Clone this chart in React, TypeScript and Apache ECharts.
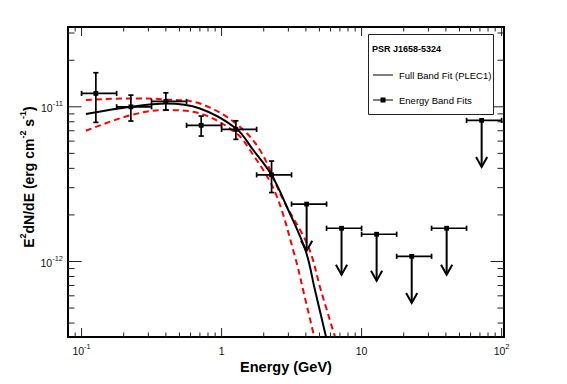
import React, { useEffect, useRef } from 'react';
import * as echarts from 'echarts';

const FONT = '"Liberation Sans", Arial, Helvetica, sans-serif';

// Axis ranges (log axes)
const X_MIN = 0.08;
const X_MAX = 104;
const Y_MIN = 3.25e-13;
const Y_MAX = 3.28e-11;

// Energy band fits (detections)
const bandE = [0.1265, 0.225, 0.4, 0.715, 1.265, 2.275];
const bandELow = [0.1, 0.178, 0.316, 0.562, 1.0, 1.78];
const bandEHigh = [0.178, 0.316, 0.562, 1.0, 1.78, 3.16];
const bandFlux = [1.22e-11, 1.0e-11, 1.083e-11, 7.59e-12, 7.15e-12, 3.63e-12];
const bandFluxLow = [7.93e-12, 8.09e-12, 9.52e-12, 6.47e-12, 6.16e-12, 2.79e-12];
const bandFluxHigh = [1.66e-11, 1.19e-11, 1.231e-11, 8.71e-12, 8.12e-12, 4.46e-12];

// Energy band upper limits
const ulE = [4.05, 7.19, 12.8, 22.8, 40.5, 72.0];
const ulELow = [3.16, 5.62, 10.0, 17.8, 31.6, 56.2];
const ulEHigh = [5.62, 10.0, 17.8, 31.6, 56.2, 100];
const ulFlux = [2.35e-12, 1.64e-12, 1.5e-12, 1.08e-12, 1.64e-12, 8.17e-12];
const UL_ARROW_FACTOR = 0.5;

// Full band fit (PLEC1)
const fitE = [0.1074, 0.225, 0.4, 0.7, 1.265, 1.68, 2.275, 2.99, 4.0, 4.64, 5.56];
const fitFlux = [8.97e-12, 1.0e-11, 1.05e-11, 9.76e-12, 7.26e-12, 5.26e-12, 3.62e-12, 2.16e-12, 1.16e-12, 6.56e-13, 3.28e-13];

// Upper / lower 1-sigma band of the fit
const fitUpE = [0.1074, 0.225, 0.4, 0.7, 1.265, 1.877, 2.755, 4.16, 5.11, 6.44];
const fitUpFlux = [1.105e-11, 1.133e-11, 1.116e-11, 1.05e-11, 7.81e-12, 5.26e-12, 2.5e-12, 1.25e-12, 6.56e-13, 3.28e-13];
const fitLoE = [0.1074, 0.225, 0.4, 0.7, 1.265, 1.593, 2.4, 3.34, 3.92, 4.58];
const fitLoFlux = [7.0e-12, 8.84e-12, 9.52e-12, 9.07e-12, 6.79e-12, 5.26e-12, 2.83e-12, 1.08e-12, 5.94e-13, 3.28e-13];

// Tick label texts
const xTitle = 'Energy (GeV)';
const legendTitle = 'PSR J1658-5324';
const legendFit = 'Full Band Fit (PLEC1)';
const legendBands = 'Energy Band Fits';

function logTicks(min: number, max: number) {
  const out: number[][] = [];
  const d0 = Math.floor(Math.log10(min));
  const d1 = Math.ceil(Math.log10(max));
  for (let d = d0; d <= d1; d++) {
    for (let m = 1; m <= 9; m++) {
      const v = m * Math.pow(10, d);
      if (v > min * 1.001 && v < max * 0.999) out.push([v, m === 1 ? 1 : 0]);
    }
  }
  return out;
}

const labelFmt = (v: number) => {
  const l = Math.log10(v);
  const r = Math.round(l);
  if (Math.abs(l - r) > 1e-6) return '';
  if (r === 0) return '{b|1}';
  if (r === 1) return '{b|10}';
  return `{b|10}{s|${r}}`;
};

const labelRich = {
  b: { fontSize: 10.5, fontFamily: FONT, color: '#111', lineHeight: 14, verticalAlign: 'bottom' },
  s: { fontSize: 7.5, fontFamily: FONT, color: '#111', lineHeight: 14, verticalAlign: 'top' },
};

export default function App() {
  const ref = useRef<HTMLDivElement>(null);
  useEffect(() => {
    if (!ref.current) return;
    const chart = echarts.init(ref.current, null, { renderer: 'svg' });

    const xTicks = logTicks(X_MIN, X_MAX).map((t) => [t[0], Y_MIN * 2, t[1]]);
    const yTicks = logTicks(Y_MIN, Y_MAX).map((t) => [X_MIN * 2, t[0], t[1]]);

    const bandData = bandE.map((e, i) => [e, bandFlux[i], bandELow[i], bandEHigh[i], bandFluxLow[i], bandFluxHigh[i]]);
    const ulData = ulE.map((e, i) => [e, ulFlux[i], ulELow[i], ulEHigh[i]]);

    const LW = 1.7;
    const CAP = 2.6;
    const MK = 2.4;

    const option: any = {
      animation: false,
      backgroundColor: '#fff',
      grid: { left: 68, top: 27, right: 63, bottom: 47, show: true, borderColor: '#000', borderWidth: 2, backgroundColor: 'transparent' },
      xAxis: {
        type: 'log', logBase: 10, min: X_MIN, max: X_MAX,
        axisLine: { show: false }, axisTick: { show: false }, splitLine: { show: false }, minorTick: { show: false },
        axisLabel: { formatter: labelFmt, rich: labelRich, margin: 5, showMinLabel: true, showMaxLabel: true },
      },
      yAxis: {
        type: 'log', logBase: 10, min: Y_MIN, max: Y_MAX,
        axisLine: { show: false }, axisTick: { show: false }, splitLine: { show: false }, minorTick: { show: false },
        axisLabel: { formatter: labelFmt, rich: labelRich, margin: 5 },
      },
      series: [
        {
          type: 'custom', silent: true, data: xTicks, encode: { x: 0, y: 1 }, z: 1,
          renderItem: (params: any, api: any) => {
            const cs = params.coordSys;
            const px = api.coord([api.value(0), Y_MIN * 2])[0];
            const major = api.value(2) === 1;
            const len = major ? 9 : 4.5;
            const st = { stroke: '#222', lineWidth: 1 };
            return {
              type: 'group', children: [
                { type: 'line', shape: { x1: px, y1: cs.y + cs.height, x2: px, y2: cs.y + cs.height - len }, style: st },
                { type: 'line', shape: { x1: px, y1: cs.y, x2: px, y2: cs.y + len }, style: st },
              ],
            };
          },
        },
        {
          type: 'custom', silent: true, data: yTicks, encode: { x: 0, y: 1 }, z: 1,
          renderItem: (params: any, api: any) => {
            const cs = params.coordSys;
            const py = api.coord([X_MIN * 2, api.value(1)])[1];
            const major = api.value(2) === 1;
            const len = major ? 13.5 : 6.5;
            const st = { stroke: '#222', lineWidth: 1 };
            return {
              type: 'group', children: [
                { type: 'line', shape: { x1: cs.x, y1: py, x2: cs.x + len, y2: py }, style: st },
                { type: 'line', shape: { x1: cs.x + cs.width, y1: py, x2: cs.x + cs.width - len, y2: py }, style: st },
              ],
            };
          },
        },
        {
          type: 'line', data: fitUpE.map((e, i) => [e, fitUpFlux[i]]), showSymbol: false, smooth: 0.35, z: 3,
          lineStyle: { color: '#ff0000', width: 2, type: [6, 4] }, silent: true,
        },
        {
          type: 'line', data: fitLoE.map((e, i) => [e, fitLoFlux[i]]), showSymbol: false, smooth: 0.35, z: 3,
          lineStyle: { color: '#ff0000', width: 2, type: [6, 4] }, silent: true,
        },
        {
          type: 'line', data: fitE.map((e, i) => [e, fitFlux[i]]), showSymbol: false, smooth: 0.35, z: 4,
          lineStyle: { color: '#000', width: 2 }, silent: true,
        },
        {
          type: 'custom', silent: true, data: bandData, encode: { x: 0, y: 1 }, z: 5,
          renderItem: (params: any, api: any) => {
            const x = api.value(0), y = api.value(1);
            const p = api.coord([x, y]);
            const xl = api.coord([api.value(2), y])[0];
            const xh = api.coord([api.value(3), y])[0];
            const yl = api.coord([x, api.value(4)])[1];
            const yh = api.coord([x, api.value(5)])[1];
            const st = { stroke: '#000', lineWidth: LW };
            return {
              type: 'group', children: [
                { type: 'line', shape: { x1: xl, y1: p[1], x2: xh, y2: p[1] }, style: st },
                { type: 'line', shape: { x1: xl, y1: p[1] - CAP, x2: xl, y2: p[1] + CAP }, style: st },
                { type: 'line', shape: { x1: xh, y1: p[1] - CAP, x2: xh, y2: p[1] + CAP }, style: st },
                { type: 'line', shape: { x1: p[0], y1: yl, x2: p[0], y2: yh }, style: st },
                { type: 'line', shape: { x1: p[0] - CAP, y1: yl, x2: p[0] + CAP, y2: yl }, style: st },
                { type: 'line', shape: { x1: p[0] - CAP, y1: yh, x2: p[0] + CAP, y2: yh }, style: st },
                { type: 'rect', shape: { x: p[0] - MK, y: p[1] - MK, width: 2 * MK, height: 2 * MK }, style: { fill: '#000' } },
              ],
            };
          },
        },
        {
          type: 'custom', silent: true, data: ulData, encode: { x: 0, y: 1 }, z: 5,
          renderItem: (params: any, api: any) => {
            const x = api.value(0), y = api.value(1);
            const p = api.coord([x, y]);
            const xl = api.coord([api.value(2), y])[0];
            const xh = api.coord([api.value(3), y])[0];
            const tip = api.coord([x, y * UL_ARROW_FACTOR])[1];
            const st = { stroke: '#000', lineWidth: LW };
            const ast = { stroke: '#000', lineWidth: 2, fill: 'none' };
            return {
              type: 'group', children: [
                { type: 'line', shape: { x1: xl, y1: p[1], x2: xh, y2: p[1] }, style: st },
                { type: 'line', shape: { x1: xl, y1: p[1] - CAP, x2: xl, y2: p[1] + CAP }, style: st },
                { type: 'line', shape: { x1: xh, y1: p[1] - CAP, x2: xh, y2: p[1] + CAP }, style: st },
                { type: 'line', shape: { x1: p[0], y1: p[1], x2: p[0], y2: tip }, style: ast },
                { type: 'polyline', shape: { points: [[p[0] - 5.6, tip - 10], [p[0], tip], [p[0] + 5.6, tip - 10]] }, style: ast },
                { type: 'rect', shape: { x: p[0] - MK, y: p[1] - MK, width: 2 * MK, height: 2 * MK }, style: { fill: '#000' } },
              ],
            };
          },
        },
      ],
      graphic: [
        {
          type: 'text', x: 286, y: 367,
          style: { text: xTitle, fontFamily: FONT, fontSize: 14.5, fontWeight: 'bold', fill: '#000', textAlign: 'center', textVerticalAlign: 'middle', align: 'center', verticalAlign: 'middle' },
        },
        {
          type: 'text', x: 27, y: 177, rotation: Math.PI / 2,
          style: {
            text: '{b|E}{s|2}{b|dN/dE (erg cm}{s|-2}{b| s}{s|-1}{b|)}',
            textAlign: 'center', textVerticalAlign: 'middle', align: 'center', verticalAlign: 'middle',
            rich: {
              b: { fontFamily: FONT, fontSize: 14, fontWeight: 'bold', fill: '#000', color: '#000', lineHeight: 18, verticalAlign: 'bottom' },
              s: { fontFamily: FONT, fontSize: 9, fontWeight: 'bold', fill: '#000', color: '#000', lineHeight: 18, verticalAlign: 'top' },
            },
          },
        },
        {
          type: 'rect', shape: { x: 368.5, y: 34.5, width: 125, height: 80 }, z: 100,
          style: { fill: '#fff', stroke: '#222', lineWidth: 1 },
        },
        {
          type: 'text', x: 372, y: 48.5, z: 101,
          style: { text: legendTitle, fontFamily: FONT, fontSize: 9, fontWeight: 'bold', fill: '#000', textVerticalAlign: 'middle', verticalAlign: 'middle' },
        },
        { type: 'line', z: 101, shape: { x1: 373, y1: 75, x2: 393, y2: 75 }, style: { stroke: '#000', lineWidth: 1 } },
        {
          type: 'text', x: 399, y: 75, z: 101,
          style: { text: legendFit, fontFamily: FONT, fontSize: 9.5, fill: '#000', textVerticalAlign: 'middle', verticalAlign: 'middle' },
        },
        { type: 'line', z: 101, shape: { x1: 373, y1: 100, x2: 393, y2: 100 }, style: { stroke: '#000', lineWidth: 1 } },
        { type: 'rect', z: 101, shape: { x: 380.5, y: 97.5, width: 5, height: 5 }, style: { fill: '#000' } },
        {
          type: 'text', x: 399, y: 100, z: 101,
          style: { text: legendBands, fontFamily: FONT, fontSize: 9.5, fill: '#000', textVerticalAlign: 'middle', verticalAlign: 'middle' },
        },
      ],
    };
    chart.setOption(option);
    return () => chart.dispose();
  }, []);
  return (
    <div
      ref={ref}
      style={{ position: 'fixed', left: 0, top: 0, width: 567, height: 384, background: '#fff' }}
    />
  );
}
